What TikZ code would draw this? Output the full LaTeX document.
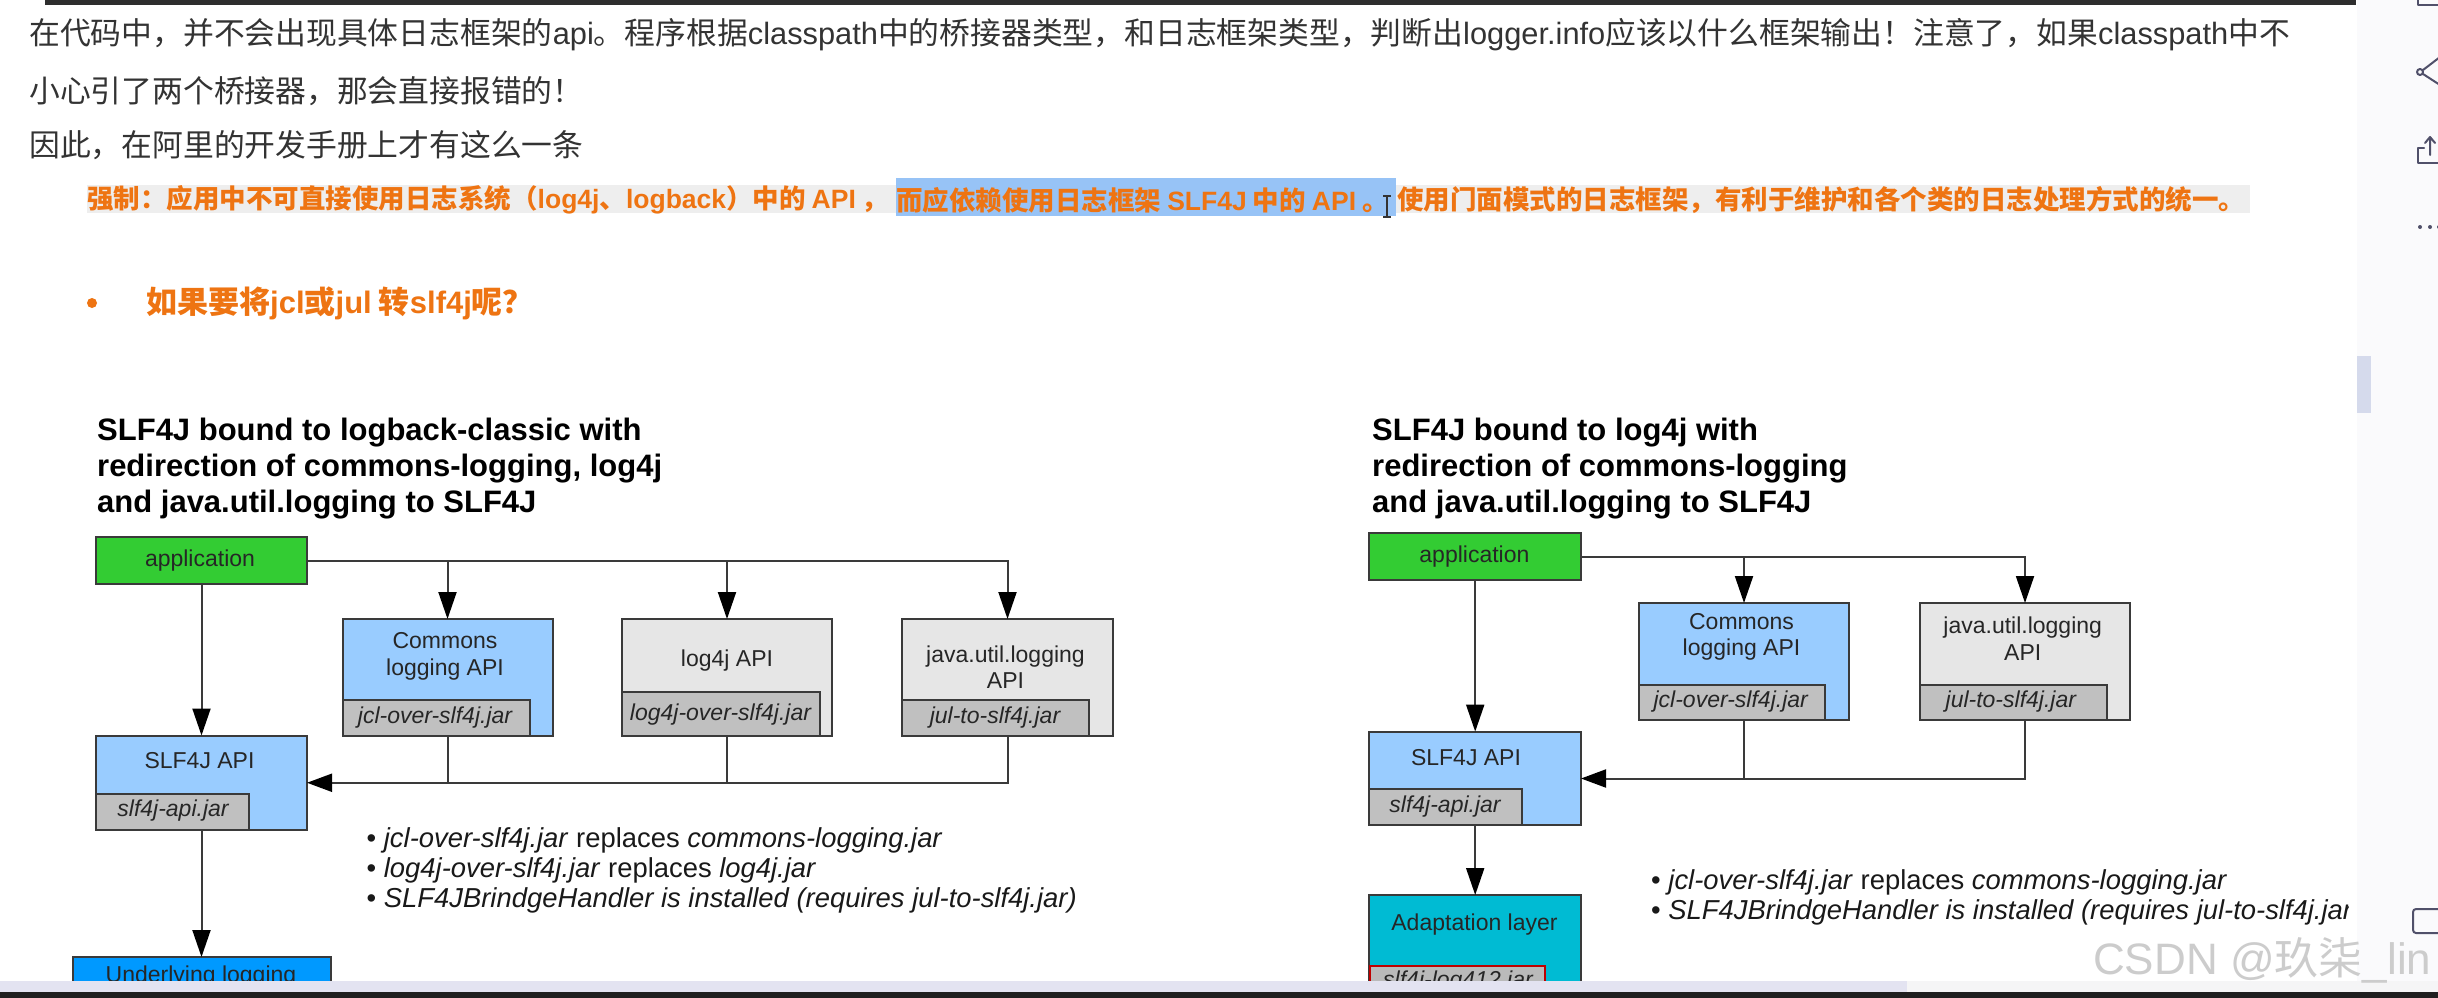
\documentclass[tikz,border=0pt]{standalone}
\usepackage{fontspec}
\usetikzlibrary{arrows.meta}
\setmainfont{Liberation Sans}
\newfontfamily\cjk{Noto Sans CJK SC}
\newcommand{\lat}[1]{{\rmfamily #1}}
\definecolor{ink}{HTML}{333333}
\definecolor{boxline}{HTML}{3A3A3A}
\definecolor{apiblue}{HTML}{99CCFF}
\definecolor{apigray}{HTML}{E6E6E6}
\definecolor{jargray}{HTML}{C0C0C0}
\definecolor{appgreen}{HTML}{33CC33}
\definecolor{logblue}{HTML}{0099FF}
\definecolor{adapt}{HTML}{00BBD3}
\definecolor{orangetx}{HTML}{EE7412}
\definecolor{hlgray}{HTML}{EEEEEE}
\definecolor{hlblue}{HTML}{97C3F6}
\definecolor{sidebar}{HTML}{FAFAFC}
\definecolor{thumb}{HTML}{D5DAEC}
\definecolor{barlight}{HTML}{E3E3F1}
\definecolor{barpale}{HTML}{F5F5F6}
\definecolor{icon}{HTML}{50506A}
\tikzset{
  x=1pt,y=-1pt,
  boxn/.style={draw=boxline,line width=2pt,inner sep=0pt,outer sep=0pt,minimum width=#1,anchor=center},
  lab/.style={font=\fontsize{23}{26.5}\selectfont,text=black!85,inner sep=0pt,align=center,anchor=center},
  jarlab/.style={font=\fontsize{23}{26}\selectfont\itshape,text=black!85,inner sep=0pt,anchor=center},
  listlab/.style={font=\fontsize{27.4}{30}\selectfont,text=black!90,inner sep=0pt,anchor=base west},
  ttl/.style={font=\fontsize{31}{36}\selectfont\bfseries,text=black,inner sep=0pt,align=left,anchor=north west},
  para/.style={font=\fontsize{30.8}{32}\selectfont\cjk,text=ink,inner sep=0pt,anchor=west},
  warn/.style={font=\fontsize{26.5}{30}\selectfont\cjk\bfseries,text=orangetx,inner sep=0pt,anchor=west},
  wire/.style={draw=boxline,line width=2pt},
  arr/.style={wire,-{Triangle[length=27pt,width=18pt,color=black]}},
  arrh/.style={wire,-{Triangle[length=25pt,width=18pt,color=black]}},
  iconl/.style={draw=icon,line width=2pt,line cap=round,line join=round},
}
\begin{document}
\begin{tikzpicture}
\clip (0,0) rectangle (2438,998);
\fill[white] (0,0) rectangle (2438,998);
% highlights
\fill[hlgray] (87,185) rectangle (2250,213);
\fill[hlblue] (896,178) rectangle (1396,216);
\fill[ink!90!black] (45,0) rectangle (2356,5);
% paragraph
\node[para] (p1) at (29,35) {在代码中，并不会出现具体日志框架的\lat{api}。程序根据\lat{classpath}中的桥接器类型，和日志框架类型，判断出\lat{logger.info}应该以什么框架输出！注意了，如果\lat{classpath}中不};
\node[para] (p2) at (29,91) {小心引了两个桥接器，那会直接报错的！};
\node[para] (p3) at (29,145) {因此，在阿里的开发手册上才有这么一条};
\node[warn] (w1) at (87,200) {强制：应用中不可直接使用日志系统（\lat{log4j}、\lat{logback}）中的 \lat{API} ，};
\node[warn] (w2) at (896,200) {而应依赖使用日志框架 \lat{SLF4J} 中的 \lat{API} 。};
\node[warn] (w3) at (1397,200) {使用门面模式的日志框架，有利于维护和各个类的日志处理方式的统一。};
\fill[orangetx] (92,303) circle (5);
\node[font=\fontsize{31}{32}\selectfont\cjk\bfseries,text=orangetx,inner sep=0pt,anchor=west] (q) at (146,303) {如果要将\lat{jcl}或\lat{jul} 转\lat{slf4j}呢？};
% cursor
\draw[ink,line width=1.5pt] (1383,196)--(1391,196) (1387,196)--(1387,217) (1383,217)--(1391,217);
% LEFT DIAGRAM
\node[ttl] (t1) at (97,418) {SLF4J bound to logback-classic with\\redirection of commons-logging, log4j\\and java.util.logging to SLF4J};
\node[boxn=211pt,minimum height=47pt,fill=appgreen] (app) at (201.5,560.5) {};
\node[lab] (appt) at (200,561) {application};
\node[boxn=210pt,minimum height=117pt,fill=apiblue] (cm) at (447.5,677.5) {};
\node[boxn=187.5pt,minimum height=36pt,fill=jargray] (cmj) at (436.25,718) {};
\node[lab] (cmt) at (445,656.5) {Commons\\logging API};
\node[jarlab] (cmjt) at (435,718) {jcl-over-slf4j.jar};
\node[boxn=210pt,minimum height=117pt,fill=apigray] (lg) at (727,677.5) {};
\node[boxn=198pt,minimum height=44pt,fill=jargray] (lgj) at (721,714) {};
\node[lab] (lgt) at (727,660.5) {log4j API};
\node[jarlab] (lgjt) at (720.5,714.5) {log4j-over-slf4j.jar};
\node[boxn=211pt,minimum height=117pt,fill=apigray] (jl) at (1007.5,677.5) {};
\node[boxn=187pt,minimum height=36pt,fill=jargray] (jlj) at (995.5,718) {};
\node[lab] (jlt) at (1005.5,667) {java.util.logging\\API};
\node[jarlab] (jljt) at (995,718) {jul-to-slf4j.jar};
\node[boxn=211pt,minimum height=94.5pt,fill=apiblue] (slf) at (201.5,782.75) {};
\node[boxn=153pt,minimum height=36pt,fill=jargray] (slfj) at (172.5,812) {};
\node[lab] (slft) at (199.5,761) {SLF4J API};
\node[jarlab] (slfjt) at (173,811) {slf4j-api.jar};
\node[boxn=258pt,minimum height=33pt,fill=logblue] (und) at (201.5,973.5) {};
\node[font=\fontsize{23}{26}\selectfont,text=black!85,inner sep=0pt,anchor=base] (undt) at (201,982) {Underlying logging};
\draw[arr] (app.east) -| (jl.north);
\draw[arr] (app.east -| cm.north) -- (cm.north);
\draw[arr] (app.east -| lg.north) -- (lg.north);
\draw[arr] (app.south) -- (slf.north);
\draw[arr] (slf.south) -- (und.north);
\draw[arrh] (jl.south) |- (slf.east);
\draw[wire] (cm.south) -- (cm.south |- slf.east);
\draw[wire] (lg.south) -- (lg.south |- slf.east);
\node[listlab] (l1) at (366.5,847.5) {• \textit{jcl-over-slf4j.jar} replaces \textit{commons-logging.jar}};
\node[listlab] (l2) at (366.5,877.5) {• \textit{log4j-over-slf4j.jar} replaces \textit{log4j.jar}};
\node[listlab] (l3) at (366.5,907.5) {• \textit{SLF4JBrindgeHandler is installed (requires jul-to-slf4j.jar)}};
% RIGHT DIAGRAM
\node[ttl] (t2) at (1372,418) {SLF4J bound to log4j with\\redirection of commons-logging\\and java.util.logging to SLF4J};
\node[boxn=211.6pt,minimum height=47.7pt,fill=appgreen] (rapp) at (1475.2,556.5) {};
\node[lab] (rappt) at (1474.4,557) {application};
\node[boxn=210pt,minimum height=117pt,fill=apiblue] (rcm) at (1744,661.5) {};
\node[boxn=186pt,minimum height=35.5pt,fill=jargray] (rcmj) at (1732,702.7) {};
\node[lab] (rcmt) at (1741.5,637) {Commons\\logging API};
\node[jarlab] (rcmjt) at (1730.7,702) {jcl-over-slf4j.jar};
\node[boxn=210pt,minimum height=117pt,fill=apigray] (rjl) at (2025,661.5) {};
\node[boxn=187pt,minimum height=35.5pt,fill=jargray] (rjlj) at (2013.5,702.7) {};
\node[lab] (rjlt) at (2022.7,638.5) {java.util.logging\\API};
\node[jarlab] (rjljt) at (2010.8,702) {jul-to-slf4j.jar};
\node[boxn=211.6pt,minimum height=93.8pt,fill=apiblue] (rslf) at (1475.2,778.5) {};
\node[boxn=152.6pt,minimum height=36pt,fill=jargray] (rslfj) at (1445.7,807.4) {};
\node[lab] (rslft) at (1466,757.5) {SLF4J API};
\node[jarlab] (rslfjt) at (1445,806.8) {slf4j-api.jar};
\node[boxn=211.6pt,minimum height=100pt,fill=adapt] (ad) at (1475.2,945) {};
\node[lab] (adt) at (1474.5,925) {Adaptation layer};
\node[draw=red!75!black,line width=2pt,fill=jargray!110,inner sep=0pt,outer sep=0pt,minimum width=175pt,minimum height=26pt,anchor=center] (adj) at (1457.5,979) {};
\node[font=\fontsize{23}{26}\selectfont\itshape,text=black!85,inner sep=0pt,anchor=base] (adjt) at (1458,987) {slf4j-log412.jar};
\draw[arr] (rapp.east) -| (rjl.north);
\draw[arr] (rapp.east -| rcm.north) -- (rcm.north);
\draw[arr] (rapp.south) -- (rslf.north);
\draw[arr] (rslf.south) -- (ad.north);
\draw[arrh] (rjl.south) |- (rslf.east);
\draw[wire] (rcm.south) -- (rcm.south |- rslf.east);
\node[listlab] (r1) at (1651,889.5) {• \textit{jcl-over-slf4j.jar} replaces \textit{commons-logging.jar}};
\node[listlab] (r2) at (1651,919.5) {• \textit{SLF4JBrindgeHandler is installed (requires jul-to-slf4j.jar)}};
% window chrome
\fill[white] (2349,860) rectangle (2357,990);
\fill[sidebar] (2357,5) rectangle (2438,992);
\fill[sidebar] (2357,0) rectangle (2438,5);
\fill[thumb] (2357,356) rectangle (2371,413);
\fill[barlight] (0,981) rectangle (1907,992);
\fill[barpale] (1907,981) rectangle (2438,992);
\fill[black!88] (0,992) rectangle (2438,998);
% watermark
\node[font=\fontsize{44}{46}\selectfont\cjk,text=black!20,inner sep=0pt,anchor=west] (wm) at (2093,960) {\lat{CSDN @}玖柒\lat{\_lin}};
% icons
\draw[iconl] (2418,-2)--(2418,5)--(2440,5);
\draw[iconl] (2440,57)--(2423,70) (2423,74)--(2440,85);
\draw[iconl] (2420,72) circle (3);
\draw[iconl] (2440,163)--(2418,163)--(2418,148)--(2424,148);
\draw[iconl] (2430,155)--(2430,137) (2425,143)--(2430,137)--(2435,143);
\fill[icon] (2420,227) circle (2) (2430,227) circle (2) (2439,227) circle (2);
\draw[iconl,rounded corners=3pt] (2442,909)--(2413,909)--(2413,933)--(2442,933);
\end{tikzpicture}
\end{document}
